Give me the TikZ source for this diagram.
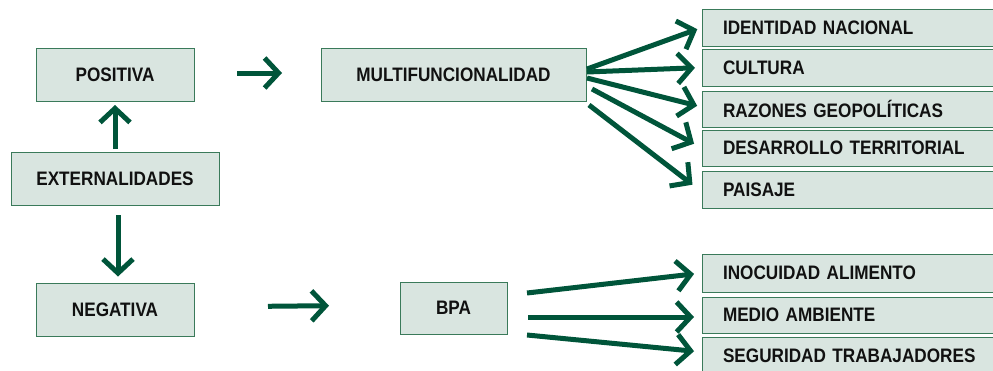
\documentclass[tikz,border=0pt]{standalone}
\usepackage{fontspec}
\setmainfont{Liberation Sans}
\newfontfamily\boxfont[FakeStretch=0.88]{Liberation Sans}
\usetikzlibrary{arrows.meta}
\definecolor{boxfill}{HTML}{D9E5E0}
\definecolor{boxline}{HTML}{3A7A5A}
\definecolor{arrgreen}{HTML}{00553A}
\definecolor{txt}{HTML}{111111}
\tikzset{
  box/.style={draw=boxline, fill=boxfill, line width=1pt, inner sep=0pt, outer sep=0pt,
    text=txt, font=\boxfont\fontsize{19.5}{22}\selectfont\bfseries},
  arr/.style={draw=arrgreen, line width=5pt, line cap=butt, line join=miter,
    -{Straight Barb[length=14pt,width=30pt]}},
}
\begin{document}
\begin{tikzpicture}[x=1pt,y=-1pt]
\useasboundingbox (0,0) rectangle (993,370);
\clip (0,0) rectangle (993,370);
% left boxes
\node[box, minimum width=158pt, minimum height=53pt] (pos) at (115,74.5) {POSITIVA};
\node[box, minimum width=208pt, minimum height=53pt] (ext) at (115,178.5) {EXTERNALIDADES};
\node[box, minimum width=158pt, minimum height=53pt] (neg) at (115,310) {NEGATIVA};
\node[box, minimum width=265pt, minimum height=53pt] (mul) at (453.5,74.5) {MULTIFUNCIONALIDAD};
\node[box, minimum width=107pt, minimum height=52pt] (bpa) at (453.5,308) {BPA};
% right boxes
\tikzset{rb/.style={box, minimum width=300pt, text width=258pt, align=left, anchor=west}}
\node[rb, minimum height=37pt] (idn) at (702,27.5) {IDENTIDAD NACIONAL};
\node[rb, minimum height=37pt] (cul) at (702,67.5) {CULTURA};
\node[rb, minimum height=36pt] (raz) at (702,109) {RAZONES GEOPOLÍTICAS};
\node[rb, minimum height=36pt] (des) at (702,148) {DESARROLLO TERRITORIAL};
\node[rb, minimum height=37pt] (pai) at (702,189.5) {PAISAJE};
\node[rb, minimum height=38pt] (ino) at (702,273) {INOCUIDAD ALIMENTO};
\node[rb, minimum height=36pt] (med) at (702,315) {MEDIO AMBIENTE};
\node[rb, minimum height=38pt] (seg) at (702,356) {SEGURIDAD TRABAJADORES};
% arrows
\draw[arr, shorten <=3pt, shorten >=4pt] (ext.north) -- (pos.south);
\draw[arr, shorten <=10pt, shorten >=7pt] ([xshift=3pt]ext.south) -- ([xshift=3pt]neg.north);
\draw[arr, shorten <=43pt, shorten >=39pt] ([yshift=1.5pt]pos.east) -- ([yshift=1.5pt]mul.west);
\draw[arr, shorten <=74pt, shorten >=71pt] ([yshift=3pt]neg.east) -- ([yshift=3pt]bpa.west);
% fan from multifuncionalidad
\coordinate (f1) at (587,69);
\coordinate (f2) at (587,72);
\coordinate (f3) at (587,78);
\coordinate (f4) at (592,89);
\coordinate (f5) at (589,105);
\draw[arr, shorten >=5pt] (f1) -- (idn.west);
\draw[arr, shorten >=7pt] (f2) -- (cul.west);
\draw[arr, shorten >=5pt] (f3) -- ([yshift=2pt]raz.west);
\draw[arr, shorten >=9pt] (f4) -- (des.west);
\draw[arr, shorten >=12pt] (f5) -- ([yshift=-2.5pt]pai.west);
% fan from BPA
\coordinate (g1) at (527,293);
\coordinate (g2) at (528,317);
\coordinate (g3) at (527,335);
\draw[arr, shorten >=8pt] (g1) -- (ino.west);
\draw[arr, shorten >=8pt] (g2) -- ([yshift=-2pt]med.west);
\draw[arr, shorten >=8pt] (g3) -- ([yshift=4pt]seg.west);
\end{tikzpicture}
\end{document}
